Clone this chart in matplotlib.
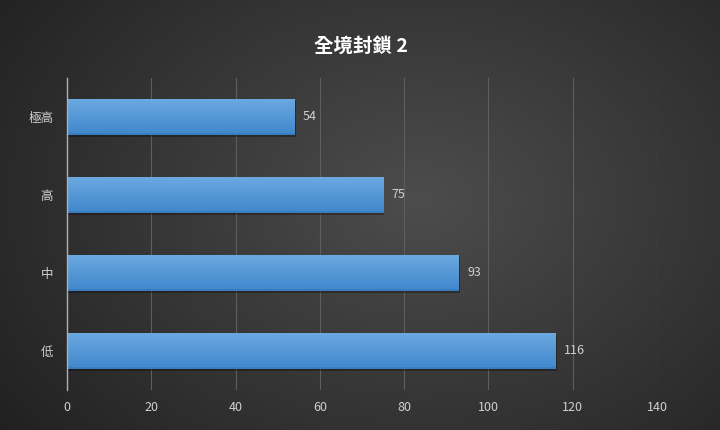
import numpy as np
import matplotlib
matplotlib.use("Agg")
import matplotlib.pyplot as plt
from matplotlib.patches import Rectangle

plt.rcParams['font.family'] = ['Noto Sans CJK TC', 'DejaVu Sans']

categories = ['極高', '高', '中', '低']
values = [54, 75, 93, 116]
x_ticks = [0, 20, 40, 60, 80, 100, 120, 140]
title = '全境封鎖 2'

fig = plt.figure(figsize=(7.2, 4.3), dpi=100)

# radial gradient background
bg = fig.add_axes([0, 0, 1, 1], zorder=-10)
yy, xx = np.mgrid[0:430, 0:720]
cx, cy = 420, 200
r = np.sqrt(((xx - cx) / 520.0) ** 2 + ((yy - cy) / 380.0) ** 2)
v = np.clip(0.30 - 0.17 * r, 0.12, 0.30)
bg.imshow(np.dstack([v, v, v]), aspect='auto', extent=[0, 1, 0, 1])
bg.set_axis_off()

ax = fig.add_axes([67/720, 1 - 390/430, 590/720, 312/430])
ax.set_facecolor('none')
ax.set_xlim(0, 140)
ax.set_ylim(len(categories) - 0.5, -0.5)

ypos = np.arange(len(categories))
h = 0.46
bars = ax.barh(ypos, values, height=h, color='#4a90d9', zorder=3)

# gradient fill on bars
grad = np.linspace(0, 1, 64)[:, None]
top = np.array([0.42, 0.66, 0.88])
bot = np.array([0.25, 0.53, 0.80])
img = top[None, None, :] * (1 - grad[..., None]) + bot[None, None, :] * grad[..., None]
for b in bars:
    x0, y0, w, hh = b.get_x(), b.get_y(), b.get_width(), b.get_height()
    # shadow
    ax.add_patch(Rectangle((x0, y0 + 0.03), w + 0.25, hh, color='black', alpha=0.3, zorder=2, lw=0))
    ax.imshow(img, extent=[x0, x0 + w, y0 + hh, y0], aspect='auto', zorder=3.5)
    ax.add_patch(Rectangle((x0, y0 + hh - 0.02), w, 0.02, color='#3a7cc0', zorder=3.6, lw=0))
    b.set_visible(False)

for y, v_ in zip(ypos, values):
    ax.text(v_ + 2, y, str(v_), va='center', ha='left', color='#d0d0d0', fontsize=9, zorder=5)

ax.set_xlim(0, 140)
ax.set_ylim(len(categories) - 0.5, -0.5)
ax.set_xticks(x_ticks)
ax.set_yticks(ypos)
ax.set_yticklabels(categories)
ax.tick_params(axis='both', colors='#d0d0d0', labelsize=9, length=0)
ax.tick_params(axis='x', pad=8)
ax.tick_params(axis='y', pad=10)
ax.grid(axis='x', color='#5e5e5e', linewidth=0.8, zorder=0)
ax.set_axisbelow(True)
for s in ['top', 'right', 'bottom']:
    ax.spines[s].set_visible(False)
ax.spines['left'].set_color('#b0b0b0')
ax.spines['left'].set_linewidth(1.0)
ax.spines['left'].set_zorder(6)

fig.text(361/720, 1 - 47/430, title, ha='center', va='center', color='white',
         fontsize=14, fontweight='bold')

fig.savefig('out.png', dpi=100)
